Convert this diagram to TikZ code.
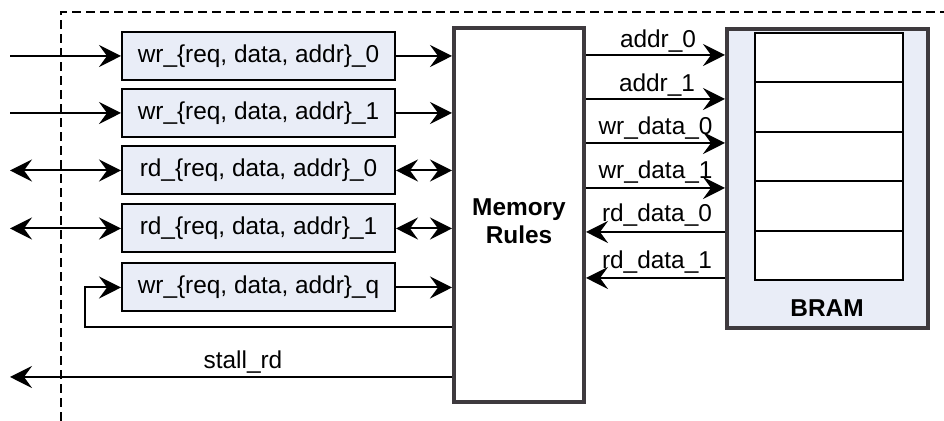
\documentclass[tikz,border=0pt]{standalone}
\usepackage{fontspec}
\setmainfont{Liberation Sans}
\usetikzlibrary{arrows.meta}

\definecolor{boxfill}{RGB}{233,237,247}
\definecolor{frame}{RGB}{62,58,62}

\tikzset{
  reg/.style={draw=black, line width=1pt, fill=boxfill, minimum width=136.5pt,
    minimum height=24pt, inner sep=0pt, font=\fontsize{12.2}{14}\selectfont},
  block/.style={draw=frame, line width=2pt, inner sep=0pt},
  cell/.style={draw=black, line width=1pt, fill=white, minimum width=74pt,
    minimum height=24.7pt, inner sep=0pt},
  lbl/.style={inner sep=0pt, font=\fontsize{12.2}{14}\selectfont},
  blbl/.style={inner sep=0pt, align=center, font=\fontsize{12.2}{14}\selectfont\bfseries},
  arr/.style={line width=1pt, -{Stealth[length=11pt, width=11pt, inset=4pt]}},
  darr/.style={line width=1pt, {Stealth[length=11pt, width=11pt, inset=4pt]}-{Stealth[length=11pt, width=11pt, inset=4pt]}},
  boundary/.style={line width=1.2pt, dash pattern=on 4.5pt off 2.5pt}
}

\begin{document}
\begin{tikzpicture}[x=0.5pt, y=-0.5pt]
  \useasboundingbox (0,0) rectangle (944,421);

  % module boundary
  \draw[boundary] (61,421) -- (61,12) -- (944,12);

  % request registers
  \node[reg] (w0) at (258.5,56)    {wr\_\{req, data, addr\}\_0};
  \node[reg] (w1) at (258.5,113)   {wr\_\{req, data, addr\}\_1};
  \node[reg] (r0) at (258.5,170.5) {rd\_\{req, data, addr\}\_0};
  \node[reg] (r1) at (258.5,228.5) {rd\_\{req, data, addr\}\_1};
  \node[reg] (wq) at (258.5,287.5) {wr\_\{req, data, addr\}\_q};

  % arbitration block
  \node[block, fill=white, minimum width=65pt, minimum height=187pt] (mr) at (519,215) {};
  \node[blbl] (mrlabel) at (519,221) {Memory\\Rules};

  % BRAM with its rows
  \node[block, fill=boxfill, minimum width=100.5pt, minimum height=149.5pt] (bram) at (827.5,178.5) {};
  \node[cell] (c0) at (829,57.7)  {};
  \node[cell] (c1) at (829,107.1) {};
  \node[cell] (c2) at (829,156.5) {};
  \node[cell] (c3) at (829,205.9) {};
  \node[cell] (c4) at (829,255.3) {};
  \node[blbl] (bramlabel) at (827,308) {BRAM};

  % external ports
  \coordinate (i0) at (10,56);
  \coordinate (i1) at (10,113);
  \coordinate (i2) at (10,170.5);
  \coordinate (i3) at (10,228.5);
  \coordinate (fb) at (85,327);
  \coordinate (st) at (10,377);

  \draw[arr]  (i0) -- (w0.west);
  \draw[arr]  (i1) -- (w1.west);
  \draw[darr] (i2) -- (r0.west);
  \draw[darr] (i3) -- (r1.west);

  \draw[arr]  (w0.east) -- (w0.east -| mr.west);
  \draw[arr]  (w1.east) -- (w1.east -| mr.west);
  \draw[darr] (r0.east) -- (r0.east -| mr.west);
  \draw[darr] (r1.east) -- (r1.east -| mr.west);
  \draw[arr]  (wq.east) -- (wq.east -| mr.west);

  % write queue feedback
  \draw[arr] (mr.west |- fb) -- (fb) |- (wq.west);

  % stall output
  \draw[arr] (mr.west |- st) -- (st);
  \node[lbl] (stl) at (243,362) {stall\_rd};

  % BRAM ports
  \coordinate (ya0) at (0,55);
  \coordinate (ya1) at (0,99);
  \coordinate (yw0) at (0,143);
  \coordinate (yw1) at (0,188);
  \coordinate (yr0) at (0,232);
  \coordinate (yr1) at (0,278);

  \draw[arr] (mr.east |- ya0) -- (bram.west |- ya0);
  \draw[arr] (mr.east |- ya1) -- (bram.west |- ya1);
  \draw[arr] (mr.east |- yw0) -- (bram.west |- yw0);
  \draw[arr] (mr.east |- yw1) -- (bram.west |- yw1);
  \draw[arr] (bram.west |- yr0) -- (mr.east |- yr0);
  \draw[arr] (bram.west |- yr1) -- (mr.east |- yr1);

  \node[lbl] (la0) at (658,41)  {addr\_0};
  \node[lbl] (la1) at (657,85)  {addr\_1};
  \node[lbl] (lw0) at (655.5,128) {wr\_data\_0};
  \node[lbl] (lw1) at (655.5,172) {wr\_data\_1};
  \node[lbl] (lr0) at (657,215) {rd\_data\_0};
  \node[lbl] (lr1) at (657,262) {rd\_data\_1};
\end{tikzpicture}
\end{document}
